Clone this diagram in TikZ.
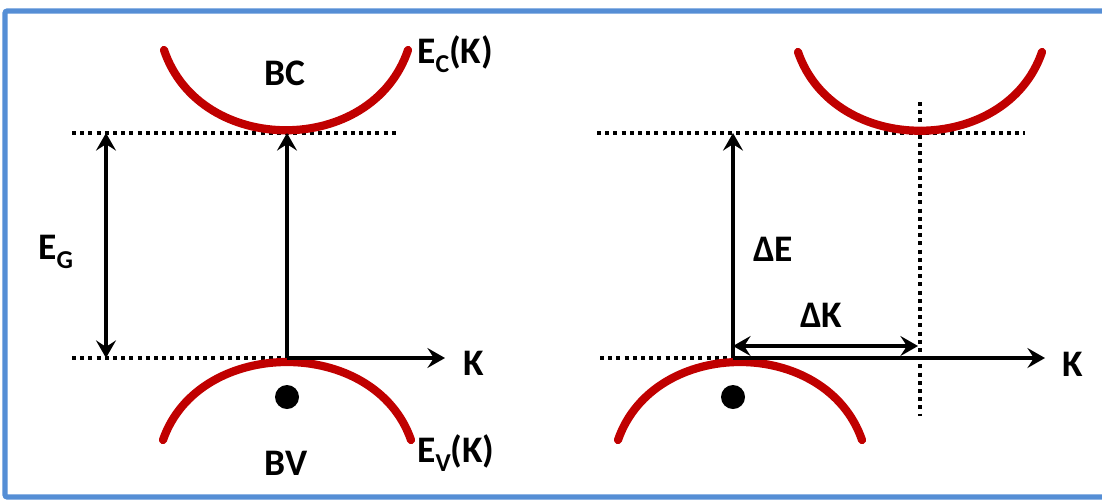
\documentclass[tikz,border=0pt]{standalone}
\usepackage{fontspec}
\setmainfont{Carlito}
\usetikzlibrary{arrows.meta}
\definecolor{bandRed}{HTML}{C00000}
\definecolor{frameBlue}{HTML}{558ED5}
\newcommand{\lowidx}[1]{\raisebox{-8.5pt}{\fontsize{22}{24}\selectfont #1}}

\tikzset{
  band/.style={draw=bandRed,line width=7pt,line cap=round},
  level/.style={line width=3.4pt,dash pattern=on 3.4pt off 3.6pt},
  arr/.style={line width=2.6pt},
  lbl/.style={inner sep=0pt,font=\fontsize{32}{36}\selectfont\bfseries}
}

\begin{document}
\begin{tikzpicture}[x=0.03cm,y=-0.03cm,>={Stealth[length=15pt,width=17pt,inset=5.5pt]}]
\useasboundingbox (0,0) rectangle (1102,501);
\draw[frameBlue,line width=4.5pt,rounded corners=2pt] (5,11) rectangle (1112,497);

% left panel: direct gap
\coordinate (cLeftL) at (72,133);   \coordinate (cRightL) at (400,133);
\coordinate (vLeftL) at (72,358);   \coordinate (vRightL) at (400,358);
\coordinate (gapTopL) at (106,133); \coordinate (gapBotL) at (106,358);
\coordinate (cMinL) at (287,133);   \coordinate (vMaxL) at (287,358);
\coordinate (axisL) at (445,358);
\draw[level] (cLeftL) -- (cRightL);
\draw[level] (vLeftL) -- (vRightL);
\draw[band] (164,50) .. controls (200,157) and (372,157) .. (408,50);
\draw[band] (163,440) .. controls (199,336) and (375,336) .. (411,440);
\draw[arr,<->] (gapBotL) -- (gapTopL);
\draw[arr,->] (vMaxL) -- (cMinL);
\draw[arr,->] (vMaxL) -- (axisL);
\fill (287,397) circle (12);
\node[lbl,anchor=base] (bc) at (285,85) {BC};
\node[lbl,anchor=base] (bv) at (286,475) {BV};
\node[lbl,anchor=base west] (ec) at (417,63) {E\lowidx{C}(K)};
\node[lbl,anchor=base west] (ev) at (417,462) {E\lowidx{V}(K)};
\node[lbl,anchor=base west] (eg) at (38,259) {E\lowidx{G}};
\node[lbl,anchor=base west] (kL) at (463,375) {K};

% right panel: indirect gap
\coordinate (cLeftR) at (597,133);  \coordinate (cRightR) at (1025,133);
\coordinate (vLeftR) at (600,358);  \coordinate (vRightR) at (1000,358);
\coordinate (vMaxR) at (733,358);   \coordinate (dETop) at (733,133);
\coordinate (dKLeft) at (733,346);  \coordinate (dKRight) at (918,346);
\coordinate (kTop) at (920,102);    \coordinate (kBot) at (920,416);
\coordinate (axisR) at (1045,358);
\draw[level] (cLeftR) -- (cRightR);
\draw[level] (vLeftR) -- (vRightR);
\draw[level] (kTop) -- (kBot);
\draw[band] (798,52) .. controls (834,157) and (1006,157) .. (1042,52);
\draw[band] (618,440) .. controls (654,336) and (826,336) .. (862,440);
\draw[arr,->] (vMaxR) -- (dETop);
\draw[arr,<->] (dKLeft) -- (dKRight);
\draw[arr,->] (vMaxR) -- (axisR);
\fill (733,397) circle (12);
\node[lbl,anchor=base west] (dE) at (753,261) {ΔE};
\node[lbl,anchor=base west] (dK) at (800,327) {ΔK};
\node[lbl,anchor=base west] (kR) at (1062,376) {K};
\end{tikzpicture}
\end{document}
